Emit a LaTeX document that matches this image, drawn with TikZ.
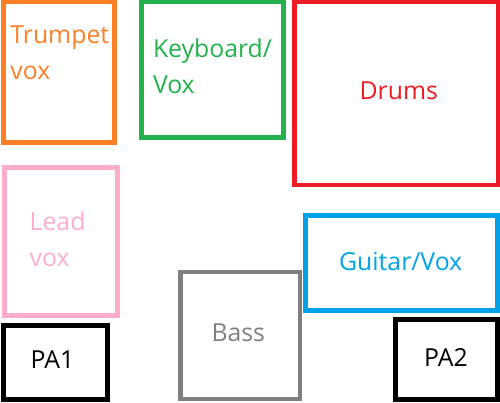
\documentclass[tikz,border=0pt]{standalone}
\usepackage{fontspec}
\setmainfont{Open Sans}
\definecolor{cOrange}{HTML}{FF7F27}
\definecolor{cGreen}{HTML}{22B14C}
\definecolor{cRed}{HTML}{ED1C24}
\definecolor{cPink}{HTML}{FFAEC9}
\definecolor{cBlue}{HTML}{00A2E8}
\definecolor{cGray}{HTML}{7F7F7F}
\begin{document}
\begin{tikzpicture}[x=1pt,y=-1pt,
  box/.style={draw, line width=5pt, inner sep=0pt, outer sep=0pt, rectangle},
  lbl/.style={inner sep=0pt, font=\fontsize{24.8}{36}\selectfont},
  ml/.style={lbl, align=left, anchor=base west}]
\useasboundingbox (0,0) rectangle (500,402);
\node[box, draw=cOrange, minimum width=110.5pt, minimum height=141pt] (trumpet) at (58.75,72) {};
\node[box, draw=cGreen, minimum width=141.7pt, minimum height=136pt] (keys) at (212.65,69.5) {};
\node[box, draw=cRed, line width=4.5pt, minimum width=203.8pt, minimum height=183.3pt] (drums) at (396.4,93.35) {};
\node[box, draw=cPink, minimum width=112.7pt, minimum height=147.7pt] (lead) at (61.15,241.35) {};
\node[box, draw=black, minimum width=103.7pt, minimum height=74.1pt] (pa1) at (55.65,362.55) {};
\node[box, draw=cGray, line width=4.5pt, minimum width=119.3pt, minimum height=127.2pt] (bass) at (240.15,335.4) {};
\node[box, draw=cBlue, minimum width=191.7pt, minimum height=95.2pt] (guitar) at (401.65,262.6) {};
\node[box, draw=black, minimum width=101.7pt, minimum height=80.3pt] (pa2) at (446.65,359.35) {};
\node[ml, text=cOrange] (trumpetT) at (10.2,79) {Trumpet\\vox};
\node[ml, text=cGreen] (keysT) at (152.8,93.3) {Keyboard/\\Vox};
\node[ml, text=cPink] (leadT) at (29.5,266) {Lead\\vox};
\node[lbl, anchor=base, text=cRed] (drumsT) at (398.8,99.3) {Drums};
\node[lbl, anchor=base, text=cGray] (bassT) at (238.3,341.7) {Bass};
\node[lbl, anchor=base, text=cBlue] (guitarT) at (400.7,270.7) {Guitar/Vox};
\node[lbl, anchor=base, text=black] (pa1T) at (52.5,368.3) {PA1};
\node[lbl, anchor=base, text=black] (pa2T) at (446,366) {PA2};
\end{tikzpicture}
\end{document}
